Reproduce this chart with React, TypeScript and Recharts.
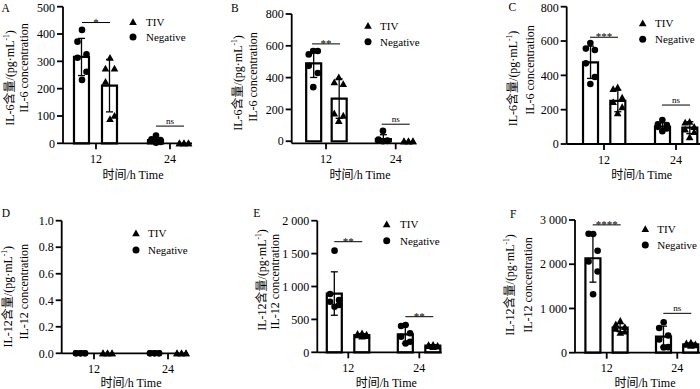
import React from 'react';
import { ComposedChart, Bar, Scatter, XAxis, YAxis, ErrorBar, Customized } from 'recharts';

const FONT = "'Liberation Serif', 'Times New Roman', 'Noto Sans CJK SC', serif";

// ---------- shared categories / labels ----------
const TIMES = [12, 24];
const TIME_LABELS = ['12', '24'];
const LEGEND_ITEMS = ['TIV', 'Negative'];
const X_TITLE = '时间/h Time';

// ---------- Panel A (IL-6) ----------
const A_NEG_MEAN = [316, 12];
const A_NEG_SD = [68, 9];
const A_TIV_MEAN = [211, 0];
const A_TIV_SD = [96, 0];
const A_NEG_PTS = [[415, 372, 326, 313, 262, 232], [28, 15, 12, 9, 5, 2]];
const A_TIV_PTS = [[313, 274, 274, 225, 101, 89], [0, 0, 0, 0, 0, 0]];
const A_SIG_Y = [442, 63];
const A_SIG = ['*', 'ns'];
const A_Y_TICKS = [0, 100, 200, 300, 400, 500];

// ---------- Panel B (IL-6) ----------
const B_NEG_MEAN = [489, 14];
const B_NEG_SD = [88, 27];
const B_TIV_MEAN = [268, 0];
const B_TIV_SD = [124, 0];
const B_NEG_PTS = [[567, 546, 567, 474, 429, 340], [65, 10, 5, 3, 1, 0]];
const B_TIV_PTS = [[402, 371, 360, 175, 161, 128], [0, 0, 0, 0, 0, 0]];
const B_SIG_Y = [612, 107];
const B_SIG = ['**', 'ns'];
const B_Y_TICKS = [0, 200, 400, 600, 800];

// ---------- Panel C (IL-6) ----------
const C_NEG_MEAN = [476, 101];
const C_NEG_SD = [94, 22];
const C_TIV_MEAN = [251, 95];
const C_TIV_SD = [63, 35];
const C_NEG_PTS = [[588, 556, 548, 470, 390, 350], [140, 115, 110, 100, 90, 75]];
const C_TIV_PTS = [[330, 320, 270, 245, 215, 180], [130, 125, 100, 85, 70, 40]];
const C_SIG_Y = [622, 227];
const C_SIG = ['***', 'ns'];
const C_Y_TICKS = [0, 200, 400, 600, 800];

// ---------- Panel D (IL-12) ----------
const D_NEG_MEAN = [0, 0];
const D_NEG_SD = [0, 0];
const D_TIV_MEAN = [0, 0];
const D_TIV_SD = [0, 0];
const D_NEG_PTS = [[0, 0, 0, 0, 0, 0], [0, 0, 0, 0, 0, 0]];
const D_TIV_PTS = [[0, 0, 0, 0, 0, 0], [0, 0, 0, 0, 0, 0]];
const D_SIG_Y: number[] = [];
const D_SIG: string[] = [];
const D_Y_TICKS = [0, 0.2, 0.4, 0.6, 0.8, 1.0];

// ---------- Panel E (IL-12) ----------
const E_NEG_MEAN = [893, 273];
const E_NEG_SD = [330, 140];
const E_TIV_MEAN = [263, 100];
const E_TIV_SD = [20, 15];
const E_NEG_PTS = [[1545, 886, 795, 769, 719, 693], [415, 400, 290, 237, 161, 135]];
const E_TIV_PTS = [[290, 280, 270, 260, 250, 240], [115, 110, 100, 95, 90, 80]];
const E_SIG_Y = [1681, 541];
const E_SIG = ['**', '**'];
const E_Y_TICKS = [0, 500, 1000, 1500, 2000];

// ---------- Panel F (IL-12) ----------
const F_NEG_MEAN = [2135, 364];
const F_NEG_SD = [540, 236];
const F_TIV_MEAN = [566, 190];
const F_TIV_SD = [90, 30];
const F_NEG_PTS = [[2685, 2690, 2305, 2063, 1837, 1320], [690, 560, 390, 300, 125, 120]];
const F_TIV_PTS = [[720, 640, 580, 540, 480, 450], [230, 210, 190, 180, 170, 160]];
const F_SIG_Y = [2890, 890];
const F_SIG = ['****', 'ns'];
const F_Y_TICKS = [0, 1000, 2000, 3000];

// ---------- layout / style (page coordinates) ----------
const BAR = 15;
const XH = 30;
const JITTER = [0, -4.5, 4.5, -4.5, 4.5, 0];

type Lay = {
  left: number; top: number; w: number; h: number;
  L: number; R: number; T: number; B: number;
  xDomain: [number, number]; gap: number;
  letter: [number, number]; t1: [number, number]; t2: [number, number];
  xTitle: [number, number]; legend: [number, number, number, number];
};

const LAY_A: Lay = { left: 0, top: 0, w: 230, h: 190, L: 63, R: 192, T: 6.7, B: 143.3, xDomain: [6.65, 27.57], gap: 13,
  letter: [1.5, 11.7], t1: [10, 78], t2: [24, 68], xTitle: [133, 179], legend: [133, 22, 37, 146] };
const LAY_B: Lay = { left: 230, top: 0, w: 230, h: 190, L: 291.7, R: 413, T: 14, B: 143.3, xDomain: [6.09, 26.98], gap: 10.5,
  letter: [231, 11.7], t1: [238.3, 83], t2: [253.3, 77], xTitle: [360, 179], legend: [368, 25.7, 41.7, 380] };
const LAY_C: Lay = { left: 460, top: 0, w: 240, h: 190, L: 566.7, R: 700, T: 6.7, B: 144, xDomain: [5.78, 28], gap: 12.3,
  letter: [508.5, 11], t1: [512.7, 78.5], t2: [530, 70], xTitle: [641.7, 179], legend: [642.7, 23.3, 39.3, 655] };
const LAY_D: Lay = { left: 0, top: 190, w: 230, h: 199, L: 61.7, R: 186.7, T: 220.7, B: 353.3, xDomain: [6.76, 27.03], gap: 12,
  letter: [1.7, 216.7], t1: [7.5, 296.7], t2: [24, 291.7], xTitle: [131, 387], legend: [136, 233.3, 250, 148] };
const LAY_E: Lay = { left: 230, top: 190, w: 230, h: 199, L: 317.3, R: 441.7, T: 220.7, B: 352.3, xDomain: [6.76, 27.78], gap: 12.5,
  letter: [253.3, 216.7], t1: [261.7, 280], t2: [275, 281.7], xTitle: [386.3, 387], legend: [386.7, 224.3, 240.7, 400] };
const LAY_F: Lay = { left: 460, top: 190, w: 240, h: 199, L: 575, R: 700, T: 220, B: 352.7, xDomain: [6.61, 27.86], gap: 12.2,
  letter: [510, 218], t1: [510, 285], t2: [528.3, 285], xTitle: [645, 387], legend: [645.3, 229, 245, 657.3] };

type PanelDef = {
  letter: string; cyto: string; negMean: number[]; negSd: number[]; tivMean: number[]; tivSd: number[];
  negPts: number[][]; tivPts: number[][]; sigY: number[]; sig: string[]; yTicks: number[]; dec: number; lay: Lay;
};

const PANELS: PanelDef[] = [
  { letter: 'A', cyto: 'IL-6', negMean: A_NEG_MEAN, negSd: A_NEG_SD, tivMean: A_TIV_MEAN, tivSd: A_TIV_SD, negPts: A_NEG_PTS, tivPts: A_TIV_PTS, sigY: A_SIG_Y, sig: A_SIG, yTicks: A_Y_TICKS, dec: 0, lay: LAY_A },
  { letter: 'B', cyto: 'IL-6', negMean: B_NEG_MEAN, negSd: B_NEG_SD, tivMean: B_TIV_MEAN, tivSd: B_TIV_SD, negPts: B_NEG_PTS, tivPts: B_TIV_PTS, sigY: B_SIG_Y, sig: B_SIG, yTicks: B_Y_TICKS, dec: 0, lay: LAY_B },
  { letter: 'C', cyto: 'IL-6', negMean: C_NEG_MEAN, negSd: C_NEG_SD, tivMean: C_TIV_MEAN, tivSd: C_TIV_SD, negPts: C_NEG_PTS, tivPts: C_TIV_PTS, sigY: C_SIG_Y, sig: C_SIG, yTicks: C_Y_TICKS, dec: 0, lay: LAY_C },
  { letter: 'D', cyto: 'IL-12', negMean: D_NEG_MEAN, negSd: D_NEG_SD, tivMean: D_TIV_MEAN, tivSd: D_TIV_SD, negPts: D_NEG_PTS, tivPts: D_TIV_PTS, sigY: D_SIG_Y, sig: D_SIG, yTicks: D_Y_TICKS, dec: 1, lay: LAY_D },
  { letter: 'E', cyto: 'IL-12', negMean: E_NEG_MEAN, negSd: E_NEG_SD, tivMean: E_TIV_MEAN, tivSd: E_TIV_SD, negPts: E_NEG_PTS, tivPts: E_TIV_PTS, sigY: E_SIG_Y, sig: E_SIG, yTicks: E_Y_TICKS, dec: 0, lay: LAY_E },
  { letter: 'F', cyto: 'IL-12', negMean: F_NEG_MEAN, negSd: F_NEG_SD, tivMean: F_TIV_MEAN, tivSd: F_TIV_SD, negPts: F_NEG_PTS, tivPts: F_TIV_PTS, sigY: F_SIG_Y, sig: F_SIG, yTicks: F_Y_TICKS, dec: 0, lay: LAY_F },
];

const fmtTick = (v: number, dec: number) => {
  if (dec > 0) return v.toFixed(dec);
  if (v >= 1000) return `${Math.floor(v / 1000)} ${String(v % 1000).padStart(3, '0')}`;
  return String(v);
};

const Tri = ({ x, y, s = 4 }: { x: number; y: number; s?: number }) => (
  <polygon points={`${x},${y - s} ${x - s},${y + s * 0.8} ${x + s},${y + s * 0.8}`} fill="#000" />
);

const AXIS_STYLE = { stroke: '#000', strokeWidth: 1.8 };

function Panel({ p }: { p: PanelDef }) {
  const lay = p.lay;
  const rows = TIMES.map((t, i) => ({ t, neg: p.negMean[i], negErr: p.negSd[i], tiv: p.tivMean[i], tivErr: p.tivSd[i] }));
  const half = (BAR + lay.gap) / 2;
  const negPts = TIMES.flatMap((t, i) => p.negPts[i].map((v, j) => ({ t, v, j })));
  const tivPts = TIMES.flatMap((t, i) => p.tivPts[i].map((v, j) => ({ t, v, j })));
  const sigPts = p.sigY.map((v, i) => ({ t: TIMES[i], v, label: p.sig[i] }));
  const margin = { top: lay.T - lay.top, right: lay.left + lay.w - lay.R, bottom: lay.top + lay.h - lay.B - XH, left: 0 };
  const ox = lay.left, oy = lay.top;
  const yMax = p.yTicks[p.yTicks.length - 1];

  const overlay = () => (
    <g fontFamily={FONT} fill="#000">
      <text x={lay.letter[0] - ox} y={lay.letter[1] - oy} fontSize={11.5}>{p.letter}</text>
      <text transform={`translate(${lay.t1[0] - ox},${lay.t1[1] - oy}) rotate(-90)`} textAnchor="middle" dominantBaseline="central" fontSize={12}>
        <tspan>{`${p.cyto}含量/(pg·mL`}</tspan>
        <tspan fontSize={7.5} dy={-4}>-1</tspan>
        <tspan dy={4}>)</tspan>
      </text>
      <text transform={`translate(${lay.t2[0] - ox},${lay.t2[1] - oy}) rotate(-90)`} textAnchor="middle" dominantBaseline="central" fontSize={12}>
        {`${p.cyto} concentration`}
      </text>
      <text x={lay.xTitle[0] - ox} y={lay.xTitle[1] - oy} textAnchor="middle" fontSize={12}>{X_TITLE}</text>
      <Tri x={lay.legend[0] - ox} y={lay.legend[1] - oy} s={3.8} />
      <text x={lay.legend[3] - ox} y={lay.legend[1] - oy} dominantBaseline="central" fontSize={11}>{LEGEND_ITEMS[0]}</text>
      <circle cx={lay.legend[0] - ox} cy={lay.legend[2] - oy} r={3.5} fill="#000" />
      <text x={lay.legend[3] - ox} y={lay.legend[2] - oy} dominantBaseline="central" fontSize={11}>{LEGEND_ITEMS[1]}</text>
    </g>
  );

  return (
    <div style={{ position: 'absolute', left: lay.left, top: lay.top, width: lay.w, height: lay.h }}>
      <ComposedChart width={lay.w} height={lay.h} data={rows} margin={margin} barGap={lay.gap}>
        <XAxis
          type="number"
          dataKey="t"
          domain={lay.xDomain}
          ticks={TIMES}
          tickFormatter={(v: number) => TIME_LABELS[TIMES.indexOf(v)]}
          height={XH}
          tickSize={6}
          tickMargin={5}
          axisLine={AXIS_STYLE}
          tickLine={AXIS_STYLE}
          tick={{ fill: '#000', fontSize: 12, fontFamily: FONT }}
        />
        <YAxis
          type="number"
          domain={[0, yMax]}
          ticks={p.yTicks}
          width={lay.L - lay.left}
          tickFormatter={(v: number) => fmtTick(v, p.dec)}
          tickSize={6}
          tickMargin={2}
          axisLine={AXIS_STYLE}
          tickLine={AXIS_STYLE}
          tick={{ fill: '#000', fontSize: 12, fontFamily: FONT }}
        />
        <Bar dataKey="neg" name="Negative" barSize={BAR} fill="#fff" stroke="#000" strokeWidth={2.2} isAnimationActive={false}>
          <ErrorBar dataKey="negErr" width={3.5} stroke="#000" strokeWidth={1.3} direction="y" />
        </Bar>
        <Bar dataKey="tiv" name="TIV" barSize={BAR} fill="#fff" stroke="#000" strokeWidth={2.2} isAnimationActive={false}>
          <ErrorBar dataKey="tivErr" width={3.5} stroke="#000" strokeWidth={1.3} direction="y" />
        </Bar>
        <Scatter
          data={negPts}
          dataKey="v"
          name="Negative points"
          isAnimationActive={false}
          shape={(s: any) => <circle cx={s.cx - half + JITTER[s.payload.j]} cy={s.cy} r={3.3} fill="#000" />}
        />
        <Scatter
          data={tivPts}
          dataKey="v"
          name="TIV points"
          isAnimationActive={false}
          shape={(s: any) => <Tri x={s.cx + half + JITTER[s.payload.j]} y={s.cy} s={3.8} />}
        />
        {sigPts.length > 0 && (
          <Scatter
            data={sigPts}
            dataKey="v"
            name="significance"
            isAnimationActive={false}
            shape={(s: any) => {
              const star = s.payload.label !== 'ns';
              return (
                <g>
                  <line x1={s.cx - 14} x2={s.cx + 14} y1={s.cy} y2={s.cy} stroke="#000" strokeWidth={1} />
                  <text x={s.cx} y={star ? s.cy + 3 : s.cy - 2} textAnchor="middle" fontFamily={FONT} fontSize={star ? 11 : 9} fill="#000">
                    {s.payload.label}
                  </text>
                </g>
              );
            }}
          />
        )}
        <Customized component={overlay} />
      </ComposedChart>
    </div>
  );
}

export default function App() {
  return (
    <div style={{ position: 'absolute', left: 0, top: 0, width: 700, height: 389, background: '#fff', overflow: 'hidden' }}>
      {PANELS.map((p) => (
        <Panel key={p.letter} p={p} />
      ))}
    </div>
  );
}
